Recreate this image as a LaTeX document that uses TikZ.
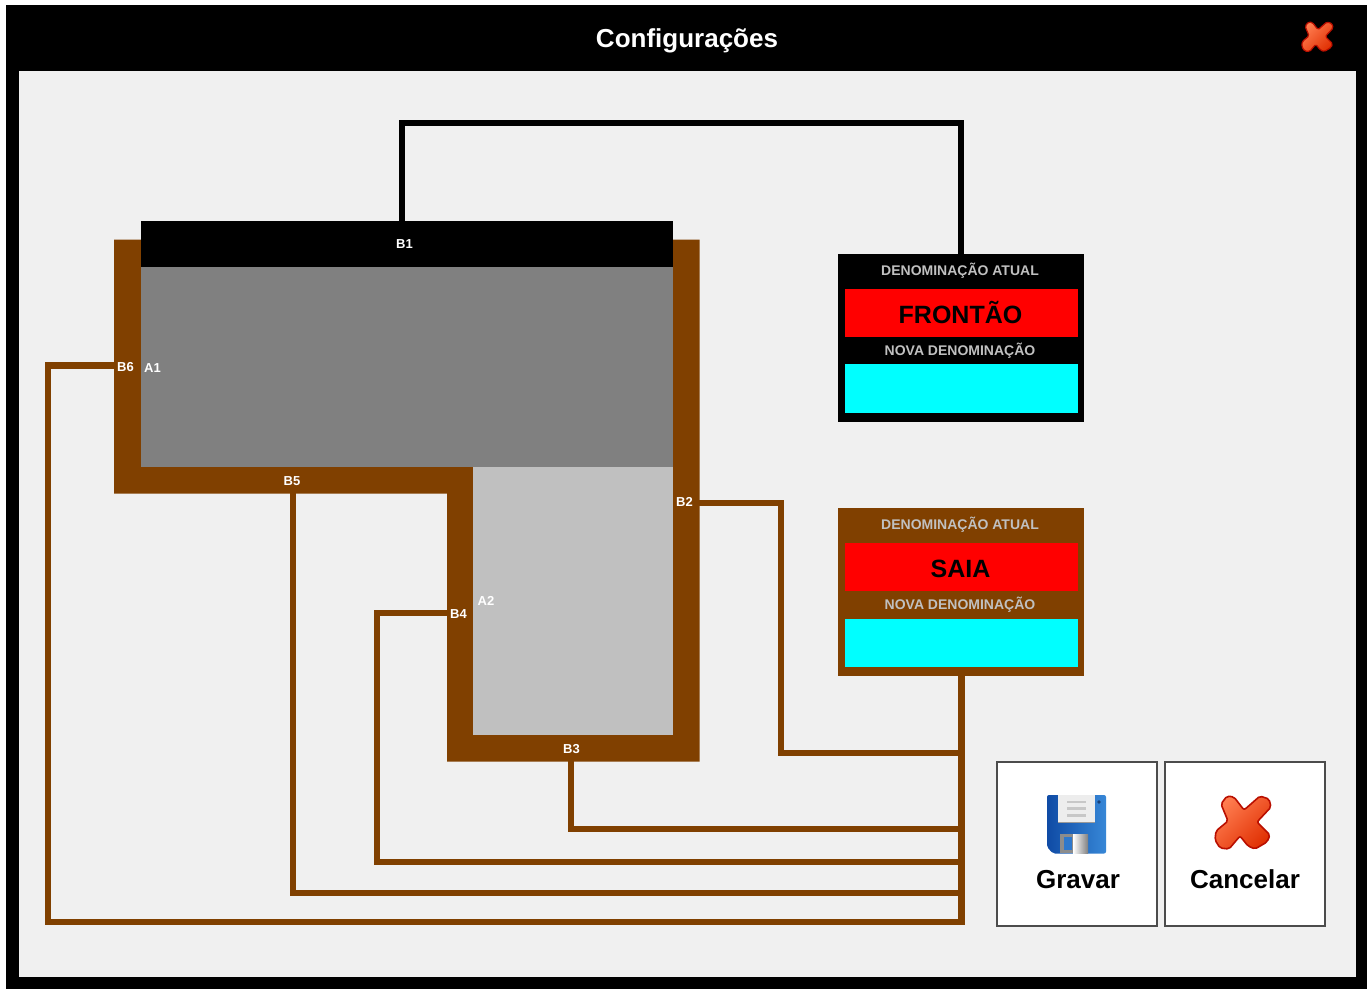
\documentclass[tikz,border=0pt]{standalone}
\usepackage{fontspec}
\setmainfont{Liberation Sans}
\definecolor{brn}{HTML}{804000}
\definecolor{panelbg}{HTML}{F0F0F0}
\definecolor{cap}{HTML}{C0C0C0}
\definecolor{aqua}{HTML}{00FFFF}
\definecolor{pure}{HTML}{FF0000}
\definecolor{midgray}{HTML}{808080}
\definecolor{xedge}{RGB}{185,15,0}
\definecolor{xlight}{RGB}{255,125,80}
\definecolor{xdark}{RGB}{225,50,5}
\definecolor{fdark}{RGB}{15,75,165}
\definecolor{flight}{RGB}{55,135,215}
\definecolor{fwin}{RGB}{45,120,205}
\definecolor{fdot}{RGB}{25,65,120}
\tikzset{
  x=1pt,y=-1pt,
  wire/.style={line width=6.4pt,brn,line join=miter,line cap=butt},
  wireK/.style={line width=6.4pt,black,line join=miter},
  box/.style={inner sep=0pt,outer sep=0pt,anchor=north west},
  lab/.style={font=\bfseries\fontsize{13}{13}\selectfont,text=white,inner sep=0pt},
  caplab/.style={font=\bfseries\fontsize{14}{14}\selectfont,text=cap,inner sep=0pt},
  val/.style={font=\bfseries\fontsize{25}{25}\selectfont,text=black,inner sep=0pt},
  btn/.style={box,fill=white,draw=black!70,line width=1.2pt,minimum width=160pt,minimum height=164pt},
  btnlab/.style={font=\bfseries\fontsize{26}{26}\selectfont,text=black,inner sep=0pt},
}
\newcommand{\xmark}[5]{% centre x, y, scale, corner radius, line width
  \begin{scope}[shift={(#1,#2)},scale=#3]
    \path[draw=xedge,line width=#5,line join=round,rounded corners=#4,top color=xlight,bottom color=xdark,shading angle=45]
      (-17,-27) -- (-10,-26) -- (0,-13) -- (16,-27) -- (25,-24) -- (27,-16) -- (13,-1) -- (26,12) -- (23,19) -- (11,26) -- (4,23) -- (-4,13) -- (-15,26) -- (-24,25) -- (-29,17) -- (-28,8) -- (-16,-2) -- (-23,-19) -- cycle;
  \end{scope}}
\begin{document}
\begin{tikzpicture}
\useasboundingbox (0,0) rectangle (1367,989);
\fill[white] (0,0) rectangle (1367,989);
\fill[black] (6,5) rectangle (1367,989);
\fill[panelbg] (19,71) rectangle (1356,977);
\node[font=\bfseries\fontsize{26}{26}\selectfont,text=white,inner sep=0pt] (title) at (687,41) {Configurações};
\xmark{1318}{37}{0.56}{1.5pt}{1.2pt}

% figure
\path[fill=brn] (114,239.5) -- (699.5,239.5) -- (699.5,761.5) -- (447,761.5) -- (447,493.5) -- (114,493.5) -- cycle;
\node[box,fill=midgray,minimum width=532.5pt,minimum height=200pt] (a1) at (140.5,267) {};
\node[box,fill=cap,minimum width=200pt,minimum height=268pt] (a2) at (473,467) {};
\node[box,fill=black,minimum width=532.5pt,minimum height=46.5pt] (b1) at (140.5,220.5) {};
\coordinate (b2) at (699,503);
\coordinate (b3) at (571,761);
\coordinate (b4) at (447,613);
\coordinate (b5) at (293,493);
\coordinate (b6) at (114,365.5);

\node[lab] at (404.5,244.5) {B1};
\node[lab] at (684.5,501.5) {B2};
\node[lab] at (571.5,749.5) {B3};
\node[lab] at (458.5,614.5) {B4};
\node[lab] at (292,481.5) {B5};
\node[lab] at (125.5,367.5) {B6};
\node[lab] at (152.5,368.5) {A1};
\node[lab] at (486,601) {A2};

% panels
\node[box,fill=black,minimum width=246pt,minimum height=168pt] (p1) at (838,254) {};
\node[box,fill=pure,minimum width=233pt,minimum height=48pt] (v1) at (845,289) {};
\node[box,fill=aqua,minimum width=233pt,minimum height=49pt] (n1) at (845,364) {};
\node[caplab] at (960,271) {DENOMINAÇÃO ATUAL};
\node[val] at (960.5,312.5) {FRONTÃO};
\node[caplab] at (960,351) {NOVA DENOMINAÇÃO};

\node[box,fill=brn,minimum width=246pt,minimum height=168pt] (p2) at (838,508) {};
\node[box,fill=pure,minimum width=233pt,minimum height=48pt] (v2) at (845,543) {};
\node[box,fill=aqua,minimum width=233pt,minimum height=48pt] (n2) at (845,619) {};
\node[caplab] at (960,525) {DENOMINAÇÃO ATUAL};
\node[val] at (960.5,569) {SAIA};
\node[caplab] at (960,605) {NOVA DENOMINAÇÃO};

% connectors
\coordinate (k1) at (402,123);
\draw[wireK] (b1.north -| k1) -- (k1) -| (p1.north);
\coordinate (bus) at (961.3,925);
\draw[wire] (p2.south -| bus) -- (bus);
\draw[wire] (b6) -- (48,365.5) -- (48,921.8) -- (961.3,921.8);
\draw[wire] (b5) -- (293,893) -- (961,893);
\draw[wire] (b4) -- (377,613) -- (377,862) -- (961,862);
\draw[wire] (b3) -- (571,829) -- (961,829);
\draw[wire] (b2) -- (781,503) -- (781,753) -- (961,753);

% buttons
\node[btn] (save) at (997,762) {};
\node[btn] (cancel) at (1165,762) {};
\node[btnlab] at (1078,879.5) {Gravar};
\node[btnlab] at (1245,879.5) {Cancelar};

% floppy icon
\begin{scope}[shift={(1047,795)}]
  \path[left color=fdark,right color=flight,rounded corners=2pt] (0,0) -- (59,0) -- (59,58.5) -- (6,58.5) -- (0,52) -- cycle;
  \fill[black!7] (11,0) rectangle (47.5,27);
  \foreach \yy in {5.7,12.3,19} \fill[black!22] (20,\yy) rectangle (39,\yy+2.7);
  \fill[black!40] (11,27) rectangle (47.5,28);
  \fill[black!45] (13,39) rectangle (26,58);
  \path[left color=white,right color=black!50] (26,39) rectangle (41,58);
  \fill[fwin] (17,42) rectangle (24.5,55);
  \fill[fdot] (52,7) circle (1.8);
\end{scope}
\xmark{1244}{823}{1}{2pt}{1.6pt}
\end{tikzpicture}
\end{document}
